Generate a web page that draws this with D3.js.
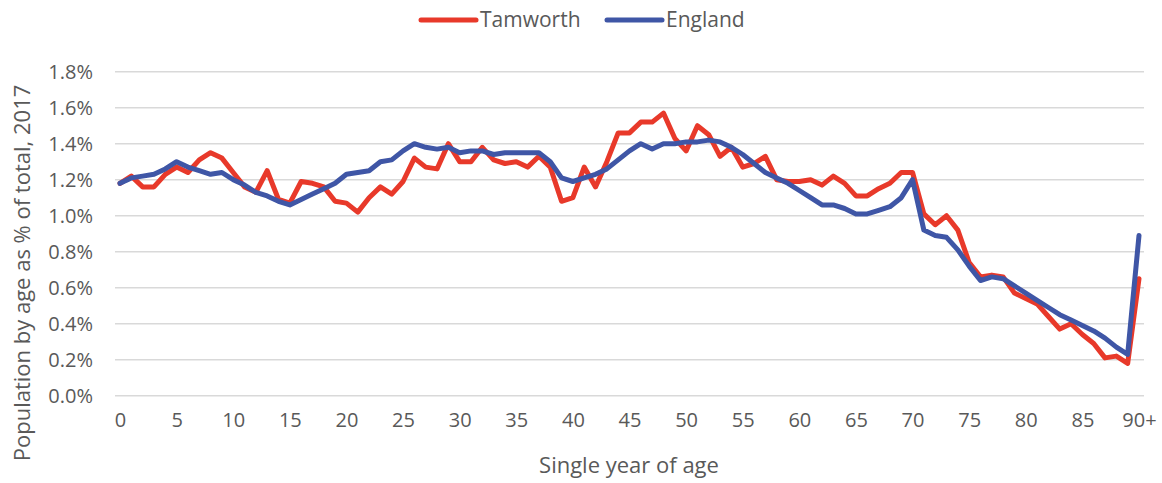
<!DOCTYPE html>
<html>
<head>
<meta charset="utf-8">
<title>Population by single year of age</title>
<script src="https://d3js.org/d3.v7.min.js"></script>
<style>
  body { margin: 0; background: #fff; }
  svg text { font-family: "Open Sans", sans-serif; fill: #595959; }
  .grid line { stroke: #d9d9d9; stroke-width: 1.5px; }
  .domain { display: none; }
</style>
</head>
<body>
<svg id="chart" width="1162" height="483"></svg>
<script>
// ages 0..89 plus 90+
var ages = d3.range(0, 91);
var ageLabels = ages.map(function(a) { return a === 90 ? "90+" : String(a); });

// % of total population
var tamworth = [
  1.18, 1.22, 1.16, 1.16, 1.23, 1.27, 1.24, 1.31, 1.35, 1.32,
  1.24, 1.16, 1.13, 1.25, 1.09, 1.07, 1.19, 1.18, 1.16, 1.08,
  1.07, 1.02, 1.10, 1.16, 1.12, 1.19, 1.32, 1.27, 1.26, 1.40,
  1.30, 1.30, 1.38, 1.31, 1.29, 1.30, 1.27, 1.33, 1.27, 1.08,
  1.10, 1.27, 1.16, 1.30, 1.46, 1.46, 1.52, 1.52, 1.57, 1.43,
  1.36, 1.50, 1.45, 1.33, 1.38, 1.27, 1.29, 1.33, 1.20, 1.19,
  1.19, 1.20, 1.17, 1.22, 1.18, 1.11, 1.11, 1.15, 1.18, 1.24,
  1.24, 1.01, 0.95, 1.00, 0.92, 0.74, 0.66, 0.67, 0.66, 0.57,
  0.54, 0.51, 0.44, 0.37, 0.40, 0.34, 0.29, 0.21, 0.22, 0.18,
  0.65
];
var england = [
  1.18, 1.21, 1.22, 1.23, 1.26, 1.30, 1.27, 1.25, 1.23, 1.24,
  1.20, 1.17, 1.13, 1.11, 1.08, 1.06, 1.09, 1.12, 1.15, 1.18,
  1.23, 1.24, 1.25, 1.30, 1.31, 1.36, 1.40, 1.38, 1.37, 1.38,
  1.35, 1.36, 1.36, 1.34, 1.35, 1.35, 1.35, 1.35, 1.30, 1.21,
  1.19, 1.21, 1.23, 1.26, 1.31, 1.36, 1.40, 1.37, 1.40, 1.40,
  1.41, 1.41, 1.42, 1.41, 1.38, 1.34, 1.29, 1.24, 1.21, 1.18,
  1.14, 1.10, 1.06, 1.06, 1.04, 1.01, 1.01, 1.03, 1.05, 1.10,
  1.20, 0.92, 0.89, 0.88, 0.81, 0.72, 0.64, 0.66, 0.65, 0.61,
  0.57, 0.53, 0.49, 0.45, 0.42, 0.39, 0.36, 0.32, 0.27, 0.23,
  0.89
];
var yTicks = [0, 0.2, 0.4, 0.6, 0.8, 1.0, 1.2, 1.4, 1.6, 1.8];
var seriesNames = ["Tamworth", "England"];
var seriesColors = ["#e8392a", "#3f56a6"];

var svg = d3.select("#chart");

var x = d3.scalePoint().domain(ages).range([120, 1139]);
var y = d3.scaleLinear().domain([0, 1.8]).range([395.7, 71.7]);

// horizontal gridlines
svg.append("g")
  .attr("class", "grid")
  .selectAll("line")
  .data(yTicks)
  .enter().append("line")
  .attr("x1", 115)
  .attr("x2", 1144)
  .attr("y1", function(d) { return y(d); })
  .attr("y2", function(d) { return y(d); });

// y axis labels
var yAxis = d3.axisLeft(y)
  .tickValues(yTicks)
  .tickSize(0)
  .tickPadding(0)
  .tickFormat(function(d) { return d.toFixed(1) + "%"; });

svg.append("g")
  .attr("transform", "translate(93,0)")
  .call(yAxis)
  .selectAll("text")
  .style("font-size", "20px");

// x axis labels, every 5 years
var xAxis = d3.axisBottom(x)
  .tickValues(ages.filter(function(a) { return a % 5 === 0; }))
  .tickSize(0)
  .tickPadding(0)
  .tickFormat(function(d) { return ageLabels[d]; });

svg.append("g")
  .attr("transform", "translate(0,413)")
  .call(xAxis)
  .selectAll("text")
  .style("font-size", "20px");

svg.selectAll(".tick line").remove();

// lines
var line = d3.line()
  .x(function(d, i) { return x(ages[i]); })
  .y(function(d) { return y(d); });

[tamworth, england].forEach(function(s, k) {
  svg.append("path")
    .datum(s)
    .attr("fill", "none")
    .attr("stroke", seriesColors[k])
    .attr("stroke-width", 5)
    .attr("stroke-linejoin", "round")
    .attr("stroke-linecap", "round")
    .attr("d", line);
});

// legend
var legendX = [421, 607];
var legend = svg.append("g");
seriesNames.forEach(function(name, k) {
  legend.append("line")
    .attr("x1", legendX[k])
    .attr("x2", legendX[k] + 55)
    .attr("y1", 20)
    .attr("y2", 20)
    .attr("stroke", seriesColors[k])
    .attr("stroke-width", 5)
    .attr("stroke-linecap", "round");
  legend.append("text")
    .attr("x", legendX[k] + 59)
    .attr("y", 20)
    .attr("dy", "0.35em")
    .style("font-size", "21px")
    .text(name);
});

// axis titles
svg.append("text")
  .attr("x", 629)
  .attr("y", 465)
  .attr("dy", "0.35em")
  .attr("text-anchor", "middle")
  .style("font-size", "22px")
  .text("Single year of age");

svg.append("text")
  .attr("transform", "translate(22,273) rotate(-90)")
  .attr("dy", "0.35em")
  .attr("text-anchor", "middle")
  .style("font-size", "22px")
  .text("Population by age as % of total, 2017");
</script>
</body>
</html>
